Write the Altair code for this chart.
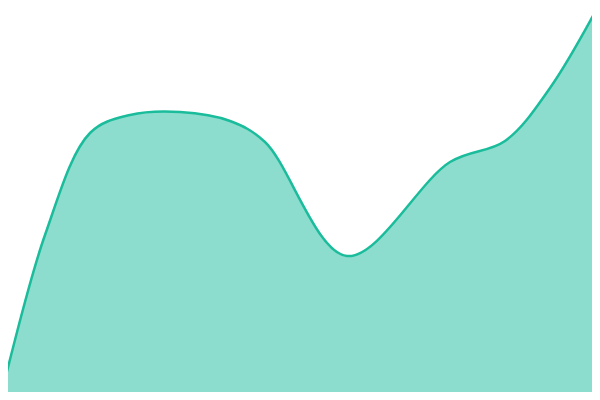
import altair as alt
import pandas as pd

positions = [0, 45, 90, 130, 180, 230, 265, 347, 450, 505, 550, 600]
values = [0, 165, 267, 285, 288, 279, 258, 144, 238, 259, 312, 397]

df = pd.DataFrame({"pos": positions, "value": values})

W, H = 584, 384

chart = alt.Chart(df).mark_area(
    interpolate="catmull-rom",
    color="#1abc9c",
    fillOpacity=0.5,
    clip=True,
    line={"color": "#1abc9c", "strokeWidth": 2.5},
).encode(
    x=alt.X("pos:Q", scale=alt.Scale(domain=[8, 8 + W], nice=False, zero=False), axis=None),
    y=alt.Y("value:Q", scale=alt.Scale(domain=[8, 8 + H], nice=False, zero=False), axis=None),
).properties(
    width=W,
    height=H,
    padding=0,
).configure_view(stroke=None)

chart.save("out.html", embed_options={"renderer": "svg", "actions": False})
